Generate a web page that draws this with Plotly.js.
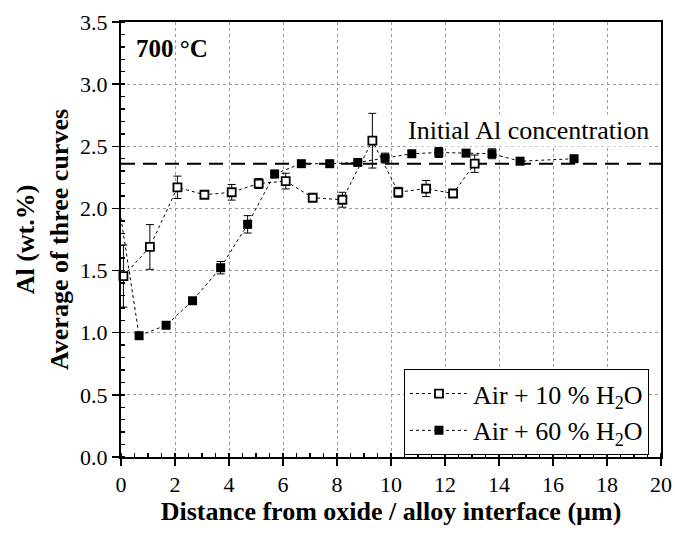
<!DOCTYPE html>
<html>
<head>
<meta charset="utf-8">
<script src="https://cdn.plot.ly/plotly-3.0.1.min.js"></script>
<style>html,body{margin:0;padding:0;background:#fff;}#chart{width:675px;height:539px;}</style>
</head>
<body>
<div id="chart"></div>
<script>
// Air + 10 % H2O (open squares)
const x10 = [0.09, 1.07, 2.09, 3.09, 4.10, 5.10, 6.10, 7.10, 8.20, 9.31, 10.27, 11.30, 12.30, 13.10];
const y10 = [1.456, 1.69, 2.17, 2.11, 2.13, 2.20, 2.22, 2.086, 2.07, 2.545, 2.13, 2.16, 2.12, 2.36];
const e10 = [0.25, 0.18, 0.09, 0.02, 0.063, 0.04, 0.063, 0.02, 0.06, 0.22, 0.04, 0.065, 0.02, 0.07];
// Air + 60 % H2O (filled squares)
const x60 = [-0.34, 0.67, 1.67, 2.65, 3.69, 4.69, 5.69, 6.68, 7.73, 8.77, 9.78, 10.77, 11.77, 12.78, 13.74, 14.78, 16.78];
const y60 = [2.40, 0.976, 1.06, 1.257, 1.523, 1.872, 2.277, 2.36, 2.36, 2.37, 2.405, 2.44, 2.45, 2.445, 2.44, 2.38, 2.40];
const e60 = [0.30, 0.02, 0.02, 0.02, 0.05, 0.07, 0.03, 0.02, 0.02, 0.02, 0.04, 0.02, 0.04, 0.02, 0.04, 0.02, 0.02];
const initialAl = 2.36;
const xTicks = [0, 2, 4, 6, 8, 10, 12, 14, 16, 18, 20];
const yTicks = [0.0, 0.5, 1.0, 1.5, 2.0, 2.5, 3.0, 3.5];

const FONT = 'Liberation Serif';

const traces = [
  {
    x: x10, y: y10, name: 'Air + 10 % H<sub>2</sub>O', type: 'scatter', mode: 'lines+markers',
    legendgroup: 'a',
    line: {color: 'black', width: 1, dash: 'dot'},
    marker: {symbol: 'square', size: 8, color: 'white', line: {color: 'black', width: 1.8}},
    error_y: {type: 'data', array: e10, visible: true, color: 'black', thickness: 1, width: 4},
    cliponaxis: false
  },
  {
    x: x60, y: y60, name: 'Air + 60 % H<sub>2</sub>O', type: 'scatter', mode: 'lines+markers',
    legendgroup: 'b',
    line: {color: 'black', width: 1, dash: 'dot'},
    marker: {symbol: 'square', size: 9, color: 'black', line: {color: 'black', width: 0}},
    error_y: {type: 'data', array: e60, visible: true, color: 'black', thickness: 1, width: 4},
    cliponaxis: false
  }
];

const layout = {
  width: 675, height: 539,
  margin: {l: 121, r: 14, t: 22, b: 82},
  paper_bgcolor: 'white', plot_bgcolor: 'white',
  font: {family: FONT, color: 'black', size: 22},
  showlegend: true,
  legend: {
    x: 0.524, y: 0.202, xanchor: 'left', yanchor: 'top',
    bordercolor: 'black', borderwidth: 1, bgcolor: 'white',
    font: {family: FONT, size: 26, color: 'black'},
    traceorder: 'grouped', tracegroupgap: 0, itemwidth: 58
  },
  xaxis: {
    range: [0, 20], tickvals: xTicks, ticktext: xTicks.map(String),
    showline: true, linecolor: 'black', linewidth: 2, mirror: true,
    ticks: 'outside', ticklen: 7, tickwidth: 1.5, tickcolor: 'black',
    minor: {dtick: 0.5, ticks: 'inside', ticklen: 4, tickwidth: 1.5, tickcolor: 'black', showgrid: false},
    showgrid: true, gridcolor: '#999', griddash: 'dot', gridwidth: 1,
    zeroline: false,
    tickfont: {family: FONT, size: 22},
    title: {text: '<b>Distance from oxide / alloy interface (µm)</b>', font: {family: FONT, size: 26}, standoff: 0}
  },
  yaxis: {
    range: [0, 3.5], tickvals: yTicks, ticktext: yTicks.map(v => v.toFixed(1)),
    showline: true, linecolor: 'black', linewidth: 2, mirror: true,
    ticks: 'outside', ticklen: 7, tickwidth: 1.5, tickcolor: 'black',
    minor: {dtick: 0.1, ticks: 'inside', ticklen: 4, tickwidth: 1.5, tickcolor: 'black', showgrid: false},
    showgrid: true, gridcolor: '#999', griddash: 'dot', gridwidth: 1,
    zeroline: false,
    tickfont: {family: FONT, size: 22},
    title: {text: '<b>Al (wt.%)<br>Average of three curves</b>', font: {family: FONT, size: 26}, standoff: 4}
  },
  shapes: [
    {type: 'line', xref: 'x', yref: 'y', x0: 0, x1: 20, y0: initialAl, y1: initialAl,
     line: {color: 'black', width: 2, dash: '14px,8px'}, layer: 'between'}
  ],
  annotations: [
    {xref: 'paper', yref: 'paper', x: 0.024, y: 0.94, xanchor: 'left', yanchor: 'middle',
     text: '<b>700 °C</b>', showarrow: false, font: {family: FONT, size: 25, color: 'black'}},
    {xref: 'x', yref: 'y', x: 15.09, y: 2.63, xanchor: 'center', yanchor: 'middle',
     text: 'Initial Al concentration', showarrow: false, bgcolor: 'white',
     font: {family: FONT, size: 26, color: 'black'}}
  ]
};

Plotly.newPlot('chart', traces, layout, {displayModeBar: false, staticPlot: true});
</script>
</body>
</html>
